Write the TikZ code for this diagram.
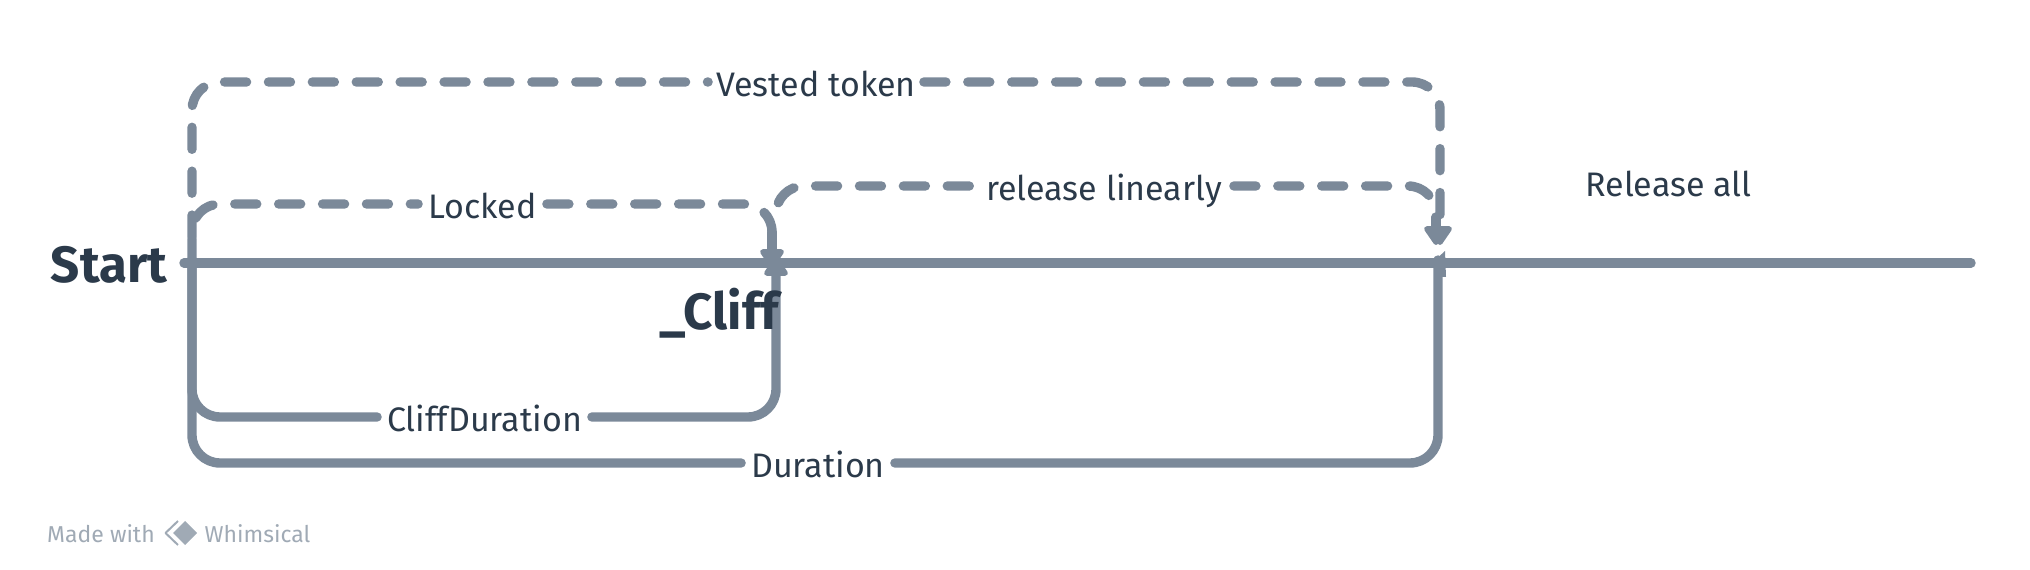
\documentclass[tikz,border=0pt]{standalone}
\usepackage{fontspec}
\setmainfont{Fira Sans}
\usetikzlibrary{arrows.meta}
\definecolor{flowgrey}{HTML}{7B8999}
\definecolor{labeldark}{HTML}{2B3A4A}
\definecolor{markgrey}{HTML}{A0AAB5}
\tikzset{
  flow/.style={flowgrey,line width=4.7bp,line cap=round,line join=round,rounded corners=14bp},
  dashflow/.style={flow,dash pattern=on 11bp off 10.95bp},
  arrowtip/.style={-{Triangle[length=10.5bp,width=13.5bp,round]}},
  lbl/.style={font=\fontsize{17bp}{19bp}\selectfont,text=labeldark,inner sep=0pt,text height=14.5bp,text depth=0bp},
  bigl/.style={font=\fontsize{25.5bp}{28bp}\selectfont\bfseries,text=labeldark,inner sep=0pt,anchor=base},
  wm/.style={font=\fontsize{11.5bp}{13bp}\selectfont,text=markgrey,inner sep=0pt,anchor=base},
}
\begin{document}
\begin{tikzpicture}[>=latex,line join=bevel,]
\useasboundingbox (0bp,0bp) rectangle (1015bp,285bp);
%%
\node (node_vested) at (408.0bp,244.0bp) [lbl,minimum width=107.5bp] {Vested token};
\node (node_locked) at (241.25bp,183.0bp) [lbl,minimum width=64bp] {Locked};
\node (node_linear) at (552.0bp,192.0bp) [lbl,minimum width=129.5bp] {release linearly};
\node (node_all) at (834.25bp,193.75bp) [lbl] {Release all};
\node (node_short) at (242.25bp,76.5bp) [lbl,minimum width=107bp] {CliffDuration};
\node (node_long) at (409.0bp,53.5bp) [lbl,minimum width=76.5bp] {Duration};
%%
\coordinate (line_from) at (92.0bp,153.5bp);
\coordinate (line_to) at (985.5bp,153.5bp);
\coordinate (root) at (96.0bp,153.5bp);
\coordinate (cliff_knee) at (386.0bp,169.0bp);
\coordinate (cliff_down) at (386.0bp,151.0bp);
\coordinate (cliff_up) at (388.0bp,156.5bp);
\coordinate (linear_from) at (388.0bp,178.0bp);
\coordinate (end_knee) at (718.0bp,178.0bp);
\coordinate (end_down) at (718.0bp,162.5bp);
\coordinate (end_down2) at (720.0bp,162.5bp);
\coordinate (end_up) at (719.0bp,155.0bp);
%%
\draw [flow] (line_from) -- (line_to);
\draw [flow] (root) -- (96.0bp,76.5bp) -- (node_short.west);
\draw [flow,arrowtip] (node_short.east) -- (388.0bp,76.5bp) -- (cliff_up);
\draw [flow] (root) -- (96.0bp,53.5bp) -- (node_long.west);
\draw [flow] (node_long.east) -- (719.0bp,53.5bp) -- (end_up);
\fill [flowgrey,line join=round] (716.0bp,153.5bp) -- (722.5bp,159.5bp) -- (723.0bp,146.5bp) -- (719.0bp,146.5bp) -- (719.0bp,150.0bp) -- cycle;
%
\draw [dashflow,dash phase=21bp] (root) -- (96.0bp,183.0bp) -- (node_locked.west);
\draw [dashflow] (node_locked.east) -- (386.0bp,183.0bp) -- (cliff_knee);
\draw [flow,arrowtip] (cliff_knee) -- (cliff_down);
\draw [dashflow,dash phase=9bp] (root) -- (96.0bp,244.0bp) -- (node_vested.west);
\draw [dashflow,arrowtip] (node_vested.east) -- (720.0bp,244.0bp) -- (end_down2);
\draw [dashflow,dash phase=16.15bp] (linear_from) -- (388.0bp,192.0bp) -- (node_linear.west);
\draw [dashflow] (node_linear.east) -- (718.0bp,192.0bp) -- (end_knee);
\draw [flow,arrowtip] (718.0bp,176.5bp) -- (end_down);
%
\node (node_start) at (54.5bp,143.5bp) [bigl] {Start};
\node (node_cliff) at (359.5bp,120.0bp) [bigl] {\_Cliff};
%
\node (node_made) at (50.5bp,13.7bp) [wm] {Made with};
\node (node_whim) at (128.75bp,13.7bp) [wm] {Whimsical};
\draw [markgrey,line width=1bp] (89.0bp,24.5bp) -- (82.75bp,18.5bp) -- (89.0bp,12.5bp);
\fill [markgrey] (86.5bp,18.5bp) -- (92.5bp,24.5bp) -- (98.5bp,18.5bp) -- (92.5bp,12.5bp) -- cycle;
%
\end{tikzpicture}
\end{document}
